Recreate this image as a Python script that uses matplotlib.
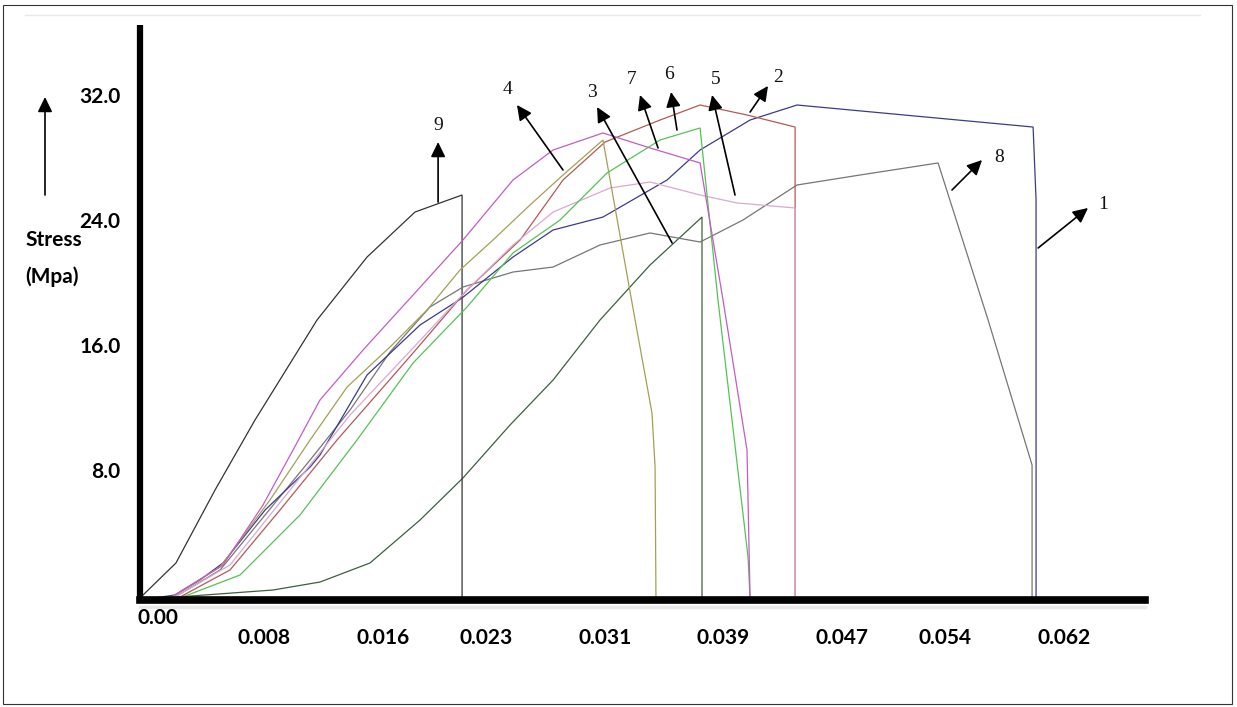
import numpy as np
import matplotlib
matplotlib.use('Agg')
import matplotlib.pyplot as plt
from matplotlib.patches import Rectangle
from matplotlib.lines import Line2D
from matplotlib.transforms import ScaledTranslation

# stress-strain curves (strain in mm/mm, stress in MPa)
strain_1 = [0, 0.00236, 0.00405, 0.00561, 0.00845, 0.01149, 0.01216, 0.01534, 0.01892, 0.02176,
            0.02520, 0.02791, 0.03128, 0.03561, 0.03784, 0.04122, 0.04439, 0.06034, 0.06054, 0.06054]
stress_1 = [0, 0.32, 1.28, 2.37, 5.76, 8.51, 9.28, 14.40, 17.60, 19.33,
            21.95, 23.68, 24.51, 26.88, 28.80, 30.72, 31.68, 30.27, 25.60, 0]

strain_2 = [0, 0.00270, 0.00608, 0.00946, 0.01331, 0.01845, 0.02209, 0.02568, 0.02858, 0.03142,
            0.03514, 0.03784, 0.04101, 0.04426, 0.04426]
stress_2 = [0, 0.19, 1.92, 5.76, 10.24, 15.81, 19.84, 23.04, 26.88, 29.31,
            30.72, 31.68, 31.04, 30.27, 0]

strain_3 = [0, 0.00250, 0.00899, 0.01216, 0.01554, 0.01892, 0.02182, 0.02500, 0.02791, 0.03108,
            0.03446, 0.03797, 0.03797]
stress_3 = [0, 0.19, 0.64, 1.15, 2.37, 5.12, 7.81, 11.20, 14.08, 17.92,
            21.44, 24.51, 0]

strain_4 = [0, 0.00203, 0.00541, 0.00878, 0.01149, 0.01399, 0.01689, 0.01939, 0.02162, 0.02385,
            0.02635, 0.02858, 0.03128, 0.03345, 0.03459, 0.03480, 0.03486]
stress_4 = [0, 0.13, 2.11, 6.40, 10.24, 13.63, 16.19, 18.56, 21.12, 23.04,
            25.28, 27.20, 29.44, 17.92, 11.97, 8.51, 0]

strain_5 = [0, 0.00236, 0.00608, 0.01014, 0.01419, 0.01845, 0.02209, 0.02520, 0.02791, 0.03176,
            0.03446, 0.03784, 0.04034, 0.04426, 0.04426]
stress_5 = [0, 0.19, 2.24, 7.04, 11.84, 16.13, 19.84, 22.72, 24.83, 26.37,
            26.75, 25.92, 25.41, 25.09, 0]

strain_6 = [0, 0.00270, 0.00676, 0.01081, 0.01466, 0.01845, 0.02209, 0.02520, 0.02838, 0.03155,
            0.03514, 0.03784, 0.03905, 0.04108, 0.04122]
stress_6 = [0, 0.13, 1.60, 5.44, 10.24, 15.17, 18.75, 22.21, 24.32, 27.33,
            29.44, 30.21, 19.20, 2.75, 0]

strain_7 = [0, 0.00203, 0.00561, 0.00831, 0.01034, 0.01216, 0.01507, 0.01845, 0.02182, 0.02520,
            0.02791, 0.03128, 0.03446, 0.03784, 0.03939, 0.04101, 0.04122]
stress_7 = [0, 0.13, 2.24, 6.08, 9.60, 12.80, 16.00, 19.52, 23.04, 26.88,
            28.80, 29.89, 28.93, 27.97, 19.20, 9.60, 0]

strain_8 = [0, 0.00236, 0.00541, 0.00845, 0.01149, 0.01419, 0.01689, 0.01959, 0.02182, 0.02520,
            0.02791, 0.03108, 0.03446, 0.03784, 0.04074, 0.04439, 0.04865, 0.05392, 0.05730, 0.06027, 0.06027]
stress_8 = [0, 0.19, 1.92, 5.44, 8.96, 12.16, 15.87, 18.75, 20.03, 20.99,
            21.31, 22.72, 23.49, 22.91, 24.32, 26.56, 27.20, 27.97, 17.92, 8.64, 0]

strain_9 = [0, 0.00243, 0.00507, 0.00777, 0.01196, 0.01534, 0.01858, 0.02027, 0.02176, 0.02176]
stress_9 = [0.13, 2.37, 7.04, 11.52, 17.92, 21.95, 24.83, 25.41, 25.92, 0]

curves = {
    '1': (strain_1, stress_1, '#3b3b8a'),
    '2': (strain_2, stress_2, '#b25a55'),
    '3': (strain_3, stress_3, '#3e5e40'),
    '4': (strain_4, stress_4, '#a3a055'),
    '5': (strain_5, stress_5, '#dba8cf'),
    '6': (strain_6, stress_6, '#55c255'),
    '7': (strain_7, stress_7, '#c35cc3'),
    '8': (strain_8, stress_8, '#767676'),
    '9': (strain_9, stress_9, '#333333'),
}
draw_order = ['3', '9', '8', '1', '2', '5', '4', '6', '7']

x_ticks = [0.0, 0.008, 0.016, 0.023, 0.031, 0.039, 0.047, 0.054, 0.062]
x_labels = ['0.00', '0.008', '0.016', '0.023', '0.031', '0.039', '0.047', '0.054', '0.062']
y_ticks = [8.0, 16.0, 24.0, 32.0]
y_labels = ['8.0', '16.0', '24.0', '32.0']

# curve labels: (tail on curve, arrow head, text position)
callouts = {
    '9': ((0.02014, 25.47), (0.02014, 29.31), (0.02014, 30.40)),
    '4': ((0.02858, 27.52), (0.02547, 31.68), (0.02486, 32.64)),
    '3': ((0.03595, 22.85), (0.03088, 31.55), (0.03054, 32.45)),
    '7': ((0.03500, 28.93), (0.03378, 32.32), (0.03324, 33.28)),
    '6': ((0.03628, 30.08), (0.03588, 32.51), (0.03574, 33.66)),
    '5': ((0.04020, 25.92), (0.03865, 32.32), (0.03892, 33.28)),
    '2': ((0.04122, 31.23), (0.04243, 32.90), (0.04311, 33.41)),
    '8': ((0.05486, 26.24), (0.05689, 28.16), (0.05770, 28.29)),
    '1': ((0.06068, 22.53), (0.06405, 25.09), (0.06473, 25.28)),
}

W, H = 1237, 707
fig = plt.figure(figsize=(W / 100, H / 100), dpi=100)
ax = fig.add_axes([140 / W, 107 / H, 1005 / W, 575 / H])

for name in draw_order:
    x, y, c = curves[name]
    ax.plot(x, y, color=c, lw=0.9, solid_joinstyle='miter')

for name, (tail, head, txt) in callouts.items():
    ax.annotate('', xy=head, xytext=tail,
                arrowprops=dict(arrowstyle='-|>,head_length=0.45,head_width=0.22',
                                color='black', lw=1.2, mutation_scale=20,
                                shrinkA=0, shrinkB=0))
    ha = 'left' if name in ('8', '1') else 'center'
    ax.text(txt[0], txt[1], name, family='Liberation Serif', fontsize=14,
            ha=ha, va='center', color='#111111')

ax.set_xlim(0, 0.0679)
ax.set_ylim(0, 36.8)
for s in ['top', 'right']:
    ax.spines[s].set_visible(False)
ax.spines['left'].set_linewidth(4.5)
ax.spines['bottom'].set_linewidth(5.5)
ax.spines['left'].set_capstyle('butt')

ax.set_xticks(x_ticks, x_labels)
ax.set_yticks(y_ticks, y_labels)
ax.tick_params(length=0)
ax.tick_params(axis='x', pad=20)
ax.tick_params(axis='y', pad=14)
for lab in ax.get_xticklabels() + ax.get_yticklabels():
    lab.set_family('Lato')
    lab.set_fontweight('bold')
    lab.set_fontsize(15)
# the hand-placed labels sit a little off the grid
first = ax.get_xticklabels()[0]
first.set_transform(first.get_transform() + ScaledTranslation(0.18, 0.20, fig.dpi_scale_trans))
for lab in ax.get_xticklabels()[1:]:
    lab.set_transform(lab.get_transform() + ScaledTranslation(0.06, 0, fig.dpi_scale_trans))
for lab in ax.get_yticklabels():
    lab.set_transform(lab.get_transform() + ScaledTranslation(0, 0.05, fig.dpi_scale_trans))

# faint shadow under the x axis bar and faint rule along the top
fig.add_artist(Line2D([140 / W, 1145 / W], [1 - 607 / H, 1 - 607 / H], color='#e8e8e8',
                      lw=2.5, zorder=-1))
fig.add_artist(Line2D([25 / W, 1200 / W], [1 - 15 / H, 1 - 15 / H], color='#e8e8e8',
                      lw=1, zorder=-1))

# axis title with its arrow, outside the plot
fig.text(25 / W, 1 - 240 / H, 'Stress', family='Lato', fontweight='bold', fontsize=15,
         ha='left', va='center')
fig.text(25 / W, 1 - 277 / H, '(Mpa)', family='Lato', fontweight='bold', fontsize=15,
         ha='left', va='center')
ax.annotate('', xy=(45 / W, 1 - 97 / H), xytext=(45 / W, 1 - 195 / H),
            xycoords='figure fraction', textcoords='figure fraction',
            arrowprops=dict(arrowstyle='-|>,head_length=0.45,head_width=0.22',
                            color='black', lw=1.2, mutation_scale=20, shrinkA=0, shrinkB=0),
            annotation_clip=False)

# frame around the whole picture
fig.patches.append(Rectangle((3 / W, 3 / H), 1229 / W, 699 / H, transform=fig.transFigure,
                             fill=False, edgecolor='#333333', lw=0.8))

fig.savefig('out.png', dpi=100)
